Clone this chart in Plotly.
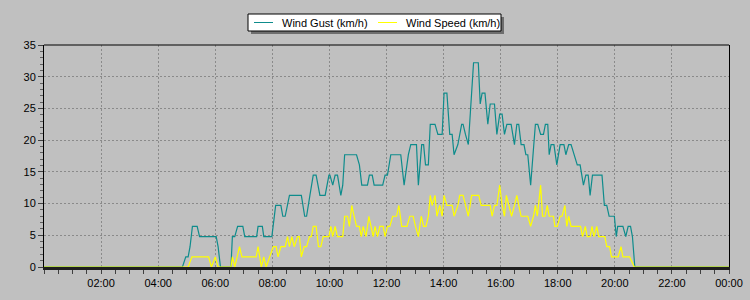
import pandas as pd
import plotly.graph_objects as go

# ---- data ----
gust_time = [
    "00:00", "04:51", "04:58", "05:03", "05:07", "05:12", "05:22", "05:27", "06:02", "06:06",
    "06:11", "06:33", "06:36", "06:41", "06:47", "06:58", "07:02", "07:27", "07:30", "07:39",
    "07:42", "07:59", "08:07", "08:18", "08:22", "08:27", "08:36", "09:01", "09:08", "09:12",
    "09:19", "09:26", "09:32", "09:40", "09:51", "09:59", "10:01", "10:07", "10:12", "10:17",
    "10:24", "10:28", "10:32", "10:57", "11:03", "11:08", "11:20", "11:24", "11:30", "11:34",
    "11:52", "11:57", "12:02", "12:09", "12:30", "12:37", "12:46", "12:51", "13:03", "13:07",
    "13:14", "13:18", "13:22", "13:28", "13:32", "13:42", "13:48", "13:57", "14:01", "14:07",
    "14:13", "14:18", "14:22", "14:30", "14:38", "14:41", "14:46", "14:52", "15:03", "15:13",
    "15:17", "15:21", "15:27", "15:33", "15:38", "15:47", "15:52", "15:58", "16:03", "16:08",
    "16:13", "16:22", "16:29", "16:34", "16:38", "16:43", "16:49", "16:53", "16:57", "17:03",
    "17:13", "17:18", "17:24", "17:30", "17:34", "17:39", "17:42", "17:46", "17:52", "17:58",
    "18:05", "18:13", "18:17", "18:23", "18:28", "18:34", "18:41", "18:47", "18:54", "18:59",
    "19:04", "19:08", "19:13", "19:33", "19:38", "19:43", "19:48", "19:59", "20:03", "20:06",
    "20:17", "20:23", "20:28", "20:33", "20:37", "20:42", "24:00",
]
gust_kmh = [
    0, 0, 1.6, 1.6, 3.2, 6.4, 6.4, 4.8, 4.8, 3.2,
    0, 0, 4.8, 4.8, 6.4, 6.4, 4.8, 4.8, 6.4, 6.4,
    4.8, 4.8, 9.7, 9.7, 8.0, 8.0, 11.3, 11.3, 8.0, 8.0,
    11.3, 14.5, 14.5, 11.3, 11.3, 14.5, 14.5, 12.9, 14.5, 14.5,
    11.3, 12.9, 17.7, 17.7, 16.1, 12.9, 12.9, 14.5, 14.5, 12.9,
    12.9, 14.5, 14.5, 17.7, 17.7, 12.9, 17.7, 19.3, 19.3, 12.9,
    19.3, 19.3, 16.1, 16.1, 22.5, 22.5, 20.9, 20.9, 27.4, 27.4,
    20.9, 20.9, 17.7, 19.3, 22.5, 22.5, 20.9, 19.3, 32.2, 32.2,
    25.7, 27.4, 27.4, 22.5, 25.7, 25.7, 20.9, 24.1, 24.1, 20.9,
    22.5, 22.5, 19.3, 22.5, 22.5, 19.3, 19.3, 17.7, 17.7, 12.9,
    22.5, 22.5, 20.9, 20.9, 22.5, 22.5, 17.7, 19.3, 19.3, 16.1,
    19.3, 19.3, 17.7, 19.3, 19.3, 17.7, 16.1, 16.1, 12.9, 14.5,
    14.5, 11.3, 14.5, 14.5, 9.7, 9.7, 8.0, 8.0, 4.8, 6.4,
    6.4, 4.8, 6.4, 6.4, 4.8, 0, 0,
]

speed_time = [
    "00:00", "05:03", "05:11", "05:46", "05:52", "06:00", "06:06", "06:33", "06:36", "06:41",
    "06:51", "06:56", "07:26", "07:30", "07:37", "07:42", "07:47", "08:02", "08:08", "08:12",
    "08:18", "08:27", "08:32", "08:36", "08:41", "08:46", "08:53", "08:57", "09:01", "09:07",
    "09:12", "09:18", "09:22", "09:26", "09:32", "09:37", "09:42", "09:47", "09:59", "10:03",
    "10:07", "10:12", "10:17", "10:28", "10:32", "10:38", "10:42", "10:47", "10:52", "10:57",
    "11:03", "11:07", "11:11", "11:17", "11:23", "11:27", "11:32", "11:36", "11:41", "11:46",
    "11:53", "11:57", "12:02", "12:07", "12:13", "12:21", "12:26", "12:32", "12:43", "12:49",
    "12:56", "13:01", "13:07", "13:13", "13:18", "13:23", "13:28", "13:32", "13:36", "13:42",
    "13:46", "13:52", "13:57", "14:01", "14:07", "14:18", "14:22", "14:30", "14:34", "14:41",
    "14:46", "14:52", "14:59", "15:14", "15:19", "15:38", "15:42", "15:47", "15:52", "15:58",
    "16:03", "16:08", "16:12", "16:18", "16:23", "16:29", "16:34", "16:38", "16:43", "16:57",
    "17:03", "17:09", "17:13", "17:17", "17:24", "17:28", "17:33", "17:38", "17:42", "17:51",
    "17:54", "17:59", "18:05", "18:09", "18:15", "18:19", "18:23", "18:28", "18:48", "18:52",
    "18:58", "19:02", "19:08", "19:12", "19:16", "19:22", "19:26", "19:39", "19:43", "19:49",
    "19:53", "20:07", "20:13", "20:17", "20:31", "20:41", "24:00",
]
speed_kmh = [
    0, 0, 1.6, 1.6, 0, 1.6, 0, 0, 1.6, 0,
    3.2, 1.6, 1.6, 3.2, 0, 1.6, 0, 3.2, 3.2, 1.6,
    3.2, 3.2, 4.8, 3.2, 4.8, 3.2, 4.8, 4.8, 1.6, 3.2,
    3.2, 4.8, 4.8, 6.4, 6.4, 3.2, 3.2, 4.8, 4.8, 6.4,
    4.8, 6.4, 4.8, 4.8, 8.0, 8.0, 6.4, 9.7, 8.0, 6.4,
    6.4, 4.8, 6.4, 4.8, 8.0, 6.4, 4.8, 6.4, 4.8, 6.4,
    6.4, 4.8, 6.4, 6.4, 8.0, 8.0, 9.7, 6.4, 6.4, 8.0,
    8.0, 6.4, 4.8, 8.0, 6.4, 6.4, 8.0, 11.3, 9.7, 11.3,
    8.0, 9.7, 8.0, 11.3, 9.7, 9.7, 8.0, 9.7, 11.3, 11.3,
    9.7, 8.0, 11.3, 11.3, 9.7, 9.7, 8.0, 9.7, 9.7, 12.9,
    9.7, 8.0, 11.3, 9.7, 8.0, 9.7, 11.3, 9.7, 8.0, 8.0,
    6.4, 8.0, 9.7, 8.0, 12.9, 8.0, 8.0, 9.7, 8.0, 8.0,
    6.4, 6.4, 8.0, 8.0, 9.7, 6.4, 8.0, 6.4, 6.4, 4.8,
    6.4, 4.8, 4.8, 6.4, 4.8, 6.4, 4.8, 4.8, 3.2, 3.2,
    1.6, 1.6, 3.2, 1.6, 1.6, 0, 0,
]

x_tick_labels = ["02:00", "04:00", "06:00", "08:00", "10:00", "12:00",
                 "14:00", "16:00", "18:00", "20:00", "22:00", "00:00"]
y_tick_values = [0, 5, 10, 15, 20, 25, 30, 35]

series_names = ["Wind Gust (km/h)", "Wind Speed (km/h)"]
series_colors = ["#0E8C8C", "#FFFF00"]

# ---- helpers ----
DAY = pd.Timestamp("2024-01-01")


def to_ts(hhmm):
    h, m = hhmm.split(":")
    return DAY + pd.Timedelta(minutes=int(h) * 60 + int(m))


x_tick_vals = [DAY + pd.Timedelta(hours=2 * (i + 1)) for i in range(len(x_tick_labels))]

W, H = 750, 300
ML, MR, MT, MB = 44, 21, 45, 33
PW, PH = W - ML - MR, H - MT - MB


def px(xp):  # container pixel -> paper x
    return (xp - ML) / PW


def py(yp):  # container pixel -> paper y
    return (H - MB - yp) / PH


FONT = "Liberation Sans, Arial, sans-serif"
BG = "#C0C0C0"
GRID = "#8A8A8A"

fig = go.Figure()
fig.add_trace(go.Scatter(
    x=[to_ts(t) for t in gust_time], y=gust_kmh, mode="lines",
    name=series_names[0], line=dict(color=series_colors[0], width=1.2),
    cliponaxis=False, showlegend=False,
))
fig.add_trace(go.Scatter(
    x=[to_ts(t) for t in speed_time], y=speed_kmh, mode="lines",
    name=series_names[1], line=dict(color=series_colors[1], width=1.2),
    cliponaxis=False, showlegend=False,
))

# ---- legend box (drawn like the reference's boxed legend) ----
LEG_L, LEG_R, LEG_T, LEG_B = 248, 501, 14, 31
leg_items = [
    (254, 273, 280),  # line x0, line x1, text x
    (378, 397, 404),
]
shapes = [
    dict(type="rect", xref="paper", yref="paper",
         x0=px(LEG_L + 3), x1=px(LEG_R + 3), y0=py(LEG_B + 3), y1=py(LEG_T + 3),
         fillcolor="#6E6E6E", line=dict(width=0)),
    dict(type="rect", xref="paper", yref="paper",
         x0=px(LEG_L), x1=px(LEG_R), y0=py(LEG_B), y1=py(LEG_T),
         fillcolor="white", line=dict(color="black", width=1)),
    dict(type="line", xref="paper", yref="paper", x0=0, x1=1, y0=1, y1=1,
         line=dict(color="black", width=1)),
]
annotations = []
ymid = (LEG_T + LEG_B) / 2
for (lx0, lx1, tx), name, color in zip(leg_items, series_names, series_colors):
    shapes.append(dict(type="line", xref="paper", yref="paper",
                       x0=px(lx0), x1=px(lx1), y0=py(ymid), y1=py(ymid),
                       line=dict(color=color, width=1)))
    annotations.append(dict(xref="paper", yref="paper", x=px(tx), y=py(ymid),
                            xanchor="left", yanchor="middle", text=name,
                            showarrow=False,
                            font=dict(family=FONT, size=11, color="black")))

fig.update_layout(
    width=W, height=H,
    margin=dict(l=ML, r=MR, t=MT, b=MB, pad=0, autoexpand=False),
    paper_bgcolor=BG, plot_bgcolor=BG,
    font=dict(family=FONT, size=11, color="black"),
    showlegend=False,
    xaxis=dict(
        type="date",
        range=[DAY, DAY + pd.Timedelta(days=1)],
        tickmode="array", tickvals=x_tick_vals, ticktext=x_tick_labels,
        ticks="outside", ticklen=4, tickcolor="#404040", tickwidth=1,
        showgrid=True, gridcolor=GRID, griddash="2px,2px", gridwidth=1,
        minor=dict(dtick=30 * 60 * 1000, tick0=DAY, ticks="outside", ticklen=4,
                   tickcolor="#404040", showgrid=False),
        showline=True, linecolor="#1E1E1E", linewidth=3, mirror=False,
        zeroline=False, fixedrange=True,
        tickfont=dict(family=FONT, size=11, color="black"),
    ),
    yaxis=dict(
        range=[0, 35],
        tickmode="array", tickvals=y_tick_values,
        ticks="outside", ticklen=5, tickcolor="#404040", tickwidth=1,
        showgrid=True, gridcolor=GRID, griddash="2px,2px", gridwidth=1,
        minor=dict(dtick=1, ticks="outside", ticklen=3, tickcolor="#606060",
                   showgrid=False),
        showline=True, linecolor="black", linewidth=1, mirror=True,
        zeroline=False, fixedrange=True,
        tickfont=dict(family=FONT, size=11, color="black"),
    ),
    shapes=shapes,
    annotations=annotations,
)

fig.write_html("out.html")
